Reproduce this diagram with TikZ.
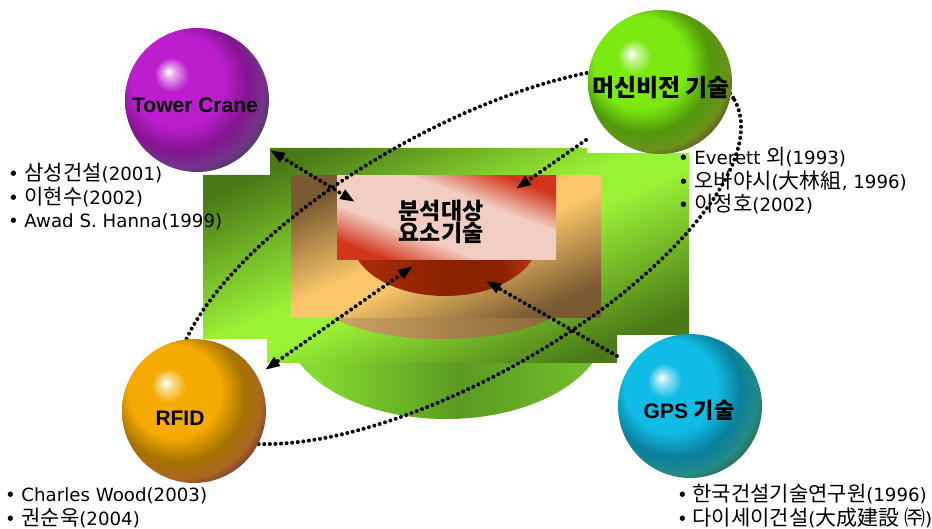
\documentclass[tikz,border=0pt]{standalone}
\usepackage{fontspec}
\setmainfont{DejaVu Sans}
\newfontfamily\kr{Noto Sans CJK KR}
\newfontfamily\lab{Liberation Sans}
\usetikzlibrary{arrows.meta}

% palette
\definecolor{gDark}{HTML}{4A7A18}
\definecolor{gLight}{HTML}{9AF236}
\definecolor{gBowlL}{HTML}{84DA2E}
\definecolor{gBowlM}{HTML}{5A9A22}
\definecolor{gBowlR}{HTML}{74C22A}
\definecolor{tDark}{HTML}{7A5A32}
\definecolor{tLight}{HTML}{FBC76A}
\definecolor{tBowlL}{HTML}{CAA462}
\definecolor{tBowlM}{HTML}{A6804A}
\definecolor{tBowlR}{HTML}{8C6A3A}
\definecolor{rPale}{HTML}{F2CEC2}
\definecolor{rRed}{HTML}{D2361C}
\definecolor{rBowlL}{HTML}{A82C08}
\definecolor{rBowlM}{HTML}{8A2200}
\definecolor{rBowlR}{HTML}{C43A16}
\definecolor{pMain}{HTML}{BC1ECE}
\definecolor{pEdge}{HTML}{45405E}
\definecolor{vMain}{HTML}{7CEA10}
\definecolor{vEdge}{HTML}{5E5A22}
\definecolor{oMain}{HTML}{F4AA00}
\definecolor{oEdge}{HTML}{7A3A38}
\definecolor{cMain}{HTML}{10BCE6}
\definecolor{cEdge}{HTML}{2F6A4A}

% diagonal bands for the three stacked blocks
\pgfdeclareverticalshading{greenband}{100bp}{color(0bp)=(gDark); color(25bp)=(gDark); color(47bp)=(gLight); color(53bp)=(gLight); color(75bp)=(gDark); color(100bp)=(gDark)}
\pgfdeclareverticalshading{tanband}{100bp}{color(0bp)=(tDark); color(25bp)=(tDark); color(47bp)=(tLight); color(53bp)=(tLight); color(75bp)=(tDark); color(100bp)=(tDark)}
\pgfdeclareverticalshading{redband}{100bp}{color(0bp)=(rRed); color(25bp)=(rRed); color(39bp)=(rPale); color(61bp)=(rPale); color(75bp)=(rRed); color(100bp)=(rRed)}
% bowls under each block
\pgfdeclarehorizontalshading{greenbowl}{100bp}{color(0bp)=(gBowlL); color(30bp)=(gBowlL); color(52bp)=(gBowlM); color(75bp)=(gBowlR); color(100bp)=(gBowlR)}
\pgfdeclarehorizontalshading{tanbowl}{100bp}{color(0bp)=(tBowlL); color(30bp)=(tBowlL); color(52bp)=(tBowlM); color(72bp)=(tBowlR); color(100bp)=(tBowlR)}
\pgfdeclarehorizontalshading{redbowl}{100bp}{color(0bp)=(rBowlL); color(28bp)=(rBowlL); color(50bp)=(rBowlM); color(65bp)=(rBowlM); color(75bp)=(rBowlR); color(100bp)=(rBowlR)}
% glossy spheres
\pgfdeclareradialshading{sphPurple}{\pgfpoint{-10bp}{10bp}}{color(0bp)=(white); color(2bp)=(white!60!pMain); color(6bp)=(pMain); color(16bp)=(pMain); color(23bp)=(pMain!70!black); color(28bp)=(pMain!40!pEdge); color(31bp)=(pEdge); color(50bp)=(pEdge)}
\pgfdeclareradialshading{sphGreen}{\pgfpoint{-10bp}{10bp}}{color(0bp)=(white); color(2bp)=(white!60!vMain); color(6bp)=(vMain); color(16bp)=(vMain); color(23bp)=(vMain!65!black); color(28bp)=(vMain!40!vEdge); color(31bp)=(vEdge); color(50bp)=(vEdge)}
\pgfdeclareradialshading{sphOrange}{\pgfpoint{-10bp}{10bp}}{color(0bp)=(white); color(2bp)=(white!60!oMain); color(6bp)=(oMain); color(16bp)=(oMain); color(23bp)=(oMain!68!black); color(28bp)=(oMain!40!oEdge); color(31bp)=(oEdge); color(50bp)=(oEdge)}
\pgfdeclareradialshading{sphCyan}{\pgfpoint{-10bp}{10bp}}{color(0bp)=(white); color(2bp)=(white!60!cMain); color(6bp)=(cMain); color(16bp)=(cMain); color(23bp)=(cMain!68!black); color(28bp)=(cMain!40!cEdge); color(31bp)=(cEdge); color(50bp)=(cEdge)}

\newcommand\K[1]{{\kr\fontsize{21}{22}\selectfont #1}}

\begin{document}
\begin{tikzpicture}[x=1pt,y=-1pt,
  ball/.style={circle, minimum size=144pt, inner sep=0pt, outer sep=0pt, shade},
  balltext/.style={inner sep=0pt, font=\lab\bfseries\fontsize{21}{22}\selectfont},
  item/.style={anchor=base west, inner sep=0pt, font=\fontsize{18.2}{20}\selectfont},
  dotline/.style={line width=4pt, dash pattern=on 0pt off 5.6pt, line cap=round},
  tip/.style={-{Triangle[length=15pt,width=10pt]}},
  tips/.style={{Triangle[length=15pt,width=10pt]}-{Triangle[length=15pt,width=10pt]}}]
\useasboundingbox (0,0) rectangle (932,529);

% green block: bowl, then notched top face
\shade[shading=greenbowl] (446,325) ellipse [x radius=160, y radius=94];
\shade[shading=greenband, shading angle=23.9]
  (203,175) -- (270,175) -- (270,148) -- (587,148) -- (587,153) -- (689,153)
  -- (689,335) -- (617,335) -- (617,363) -- (267,363) -- (267,339) -- (203,339) -- cycle;

% tan block
\shade[shading=tanbowl] (442,295) ellipse [x radius=128, y radius=44];
\shade[shading=tanband, shading angle=24.6] (291,176) rectangle (601,318);

% red block
\shade[shading=redbowl] (445,240) ellipse [x radius=93, y radius=56];
\shade[shading=redband, shading angle=-21] (337,176) rectangle (556,260);
\node[align=center, inner sep=0pt, font=\kr\bfseries\fontsize{23}{21}\selectfont] (core) at (441,222) {분석대상\\요소기술};

% reference lists
\node[item] (c1) at (8,181) {•\hspace{5.5pt}\K{삼성건설}(2001)};
\node[item] (c2) at (8,204.5) {•\hspace{5.5pt}\K{이현수}(2002)};
\node[item] (c3) at (8,228) {•\hspace{5.5pt}Awad S. Hanna(1999)};
\node[item] (m1) at (678,165) {•\hspace{5.5pt}Everett \K{외}(1993)};
\node[item] (m2) at (678,188.5) {•\hspace{5.5pt}\K{오바야시}(\K{大林組}, 1996)};
\node[item] (m3) at (678,212) {•\hspace{5.5pt}\K{이정호}(2002)};
\node[item] (r1) at (5,501.5) {•\hspace{5.5pt}Charles Wood(2003)};
\node[item] (r2) at (5,525) {•\hspace{5.5pt}\K{권순욱}(2004)};
\node[item] (g1) at (677,501.5) {•\hspace{4.5pt}\K{한국건설기술연구원}(1996)};
\node[item] (g2) at (677,525) {•\hspace{4.5pt}\K{다이세이건설}(\K{大成建設 ㈜})};

% dotted orbit
\draw[dotline, rotate around={29.3:(458,255)}] (458,255) ellipse [x radius=317, y radius=124];

% dotted arrows between the technologies and the core
\coordinate (a1s) at (270,150);
\coordinate (a1e) at (355,202);
\coordinate (a2s) at (586,140);
\coordinate (a2e) at (516,189);
\coordinate (a3s) at (413,266);
\coordinate (a3e) at (265,370);
\coordinate (a4s) at (617,356);
\coordinate (a4e) at (486,281);
\draw[dotline, tips] (a1s) -- (a1e);
\draw[dotline, tip] (a2s) -- (a2e);
\draw[dotline, tips] (a3s) -- (a3e);
\draw[dotline, tip] (a4s) -- (a4e);

% technology spheres
\node[ball, shading=sphPurple] (crane) at (197,100) {};
\node[ball, shading=sphGreen] (vision) at (660,82) {};
\node[ball, shading=sphOrange] (rfid) at (194,411) {};
\node[ball, shading=sphCyan] (gps) at (690,406) {};
\node[balltext] (craneT) at (195,105) {Tower Crane};
\node[balltext] (visionT) at (661,88) {\kr\bfseries\fontsize{24}{24}\selectfont 머신비전 기술};
\node[balltext] (rfidT) at (180,418) {RFID};
\node[balltext] (gpsT) at (689,410) {GPS {\kr\bfseries\fontsize{22}{22}\selectfont 기술}};
\end{tikzpicture}
\end{document}
